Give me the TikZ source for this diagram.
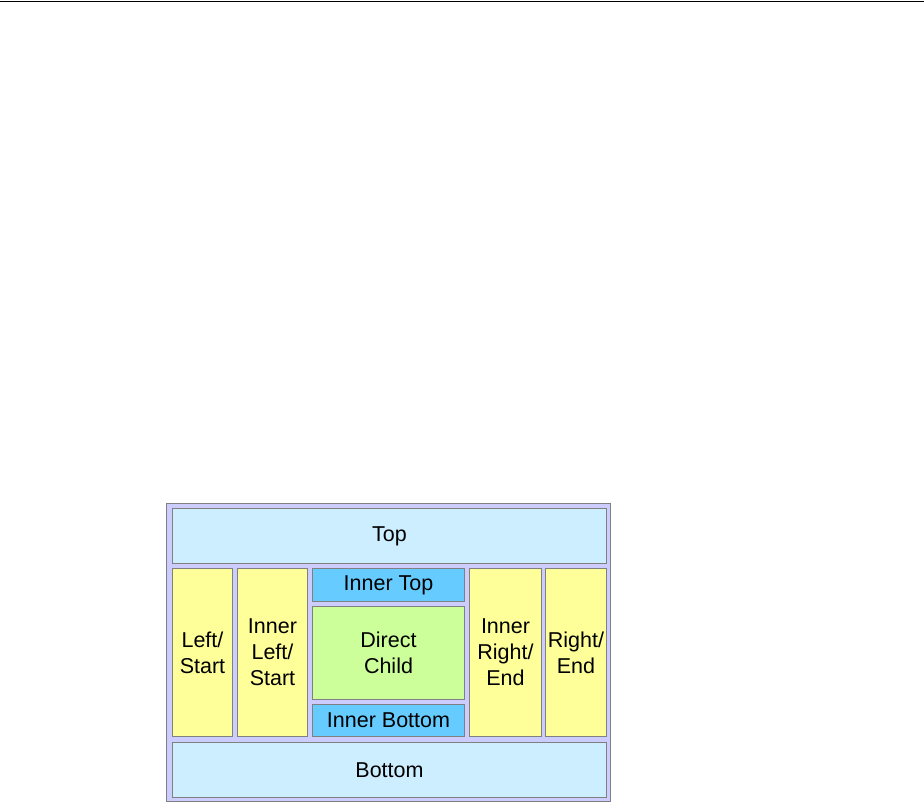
\documentclass[tikz,border=0pt]{standalone}
\usepackage{fontspec}
\setmainfont{Liberation Sans}
\definecolor{outerfill}{HTML}{CCCCFF}
\definecolor{edgegray}{HTML}{808080}
\definecolor{lightblue}{HTML}{CCEEFF}
\definecolor{paleyellow}{HTML}{FFFF99}
\definecolor{skyblue}{HTML}{66CCFF}
\definecolor{palegreen}{HTML}{CCFF99}
\tikzset{
  region/.style={draw=edgegray, line width=1pt, inner sep=0pt, anchor=north west, align=center,
    font=\fontsize{21.5}{26}\selectfont},
}
\newcommand{\regionbox}[7]{% name, x1, y1, x2, y2, fill, text
  \node[region, fill=#6, minimum width={(#4-#2)*1pt}, minimum height={(#5-#3)*1pt}] (#1) at (#2pt,-#3pt) {#7};
}
\begin{document}
\begin{tikzpicture}
\useasboundingbox (0,0) rectangle (924pt,-808pt);
\coordinate (lineL) at (0pt,-1.5pt);
\coordinate (lineR) at (924pt,-1.5pt);
\draw[line width=1.2pt] (lineL) -- (lineR);
\regionbox{outer}{166}{503}{610}{801}{outerfill}{}
\regionbox{top}{172}{508}{606}{563}{lightblue}{Top}
\regionbox{left}{172}{568}{232}{736}{paleyellow}{Left/\\Start}
\regionbox{innerleft}{237}{568}{307}{736}{paleyellow}{Inner\\Left/\\Start}
\regionbox{innertop}{312}{568}{464}{601}{skyblue}{Inner Top}
\regionbox{child}{312}{606}{464}{699}{palegreen}{Direct\\Child}
\regionbox{innerbottom}{312}{704}{464}{736}{skyblue}{Inner Bottom}
\regionbox{innerright}{469}{568}{541}{736}{paleyellow}{Inner\\Right/\\End}
\regionbox{right}{545}{568}{606}{736}{paleyellow}{Right/\\End}
\regionbox{bottom}{172}{742}{606}{797}{lightblue}{Bottom}
\end{tikzpicture}
\end{document}
